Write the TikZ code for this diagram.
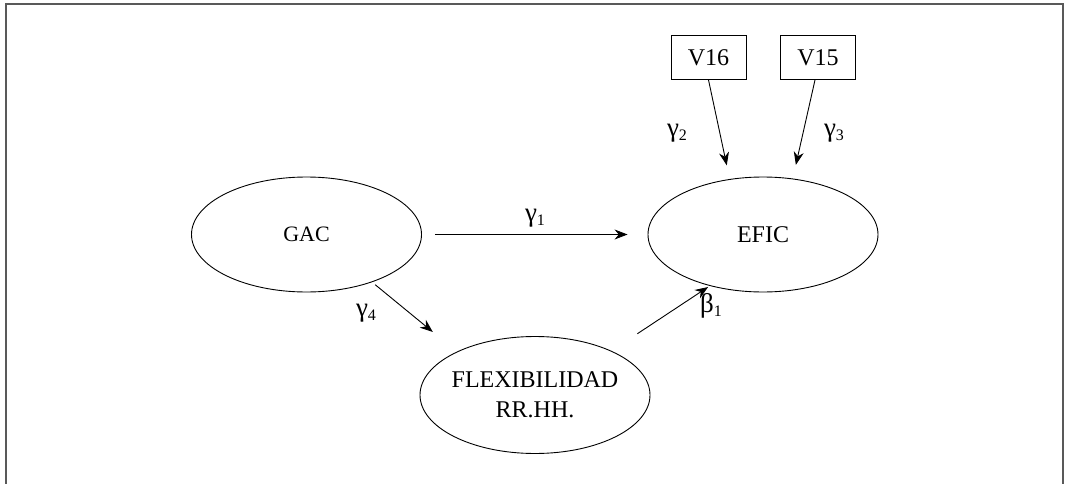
\documentclass[tikz,border=0pt]{standalone}
\usepackage{fontspec}
\setmainfont{Liberation Serif}
\usetikzlibrary{shapes.geometric,arrows.meta}
\newcommand{\lblsub}[2]{#1\raisebox{-4pt}{\fontsize{16}{16}\selectfont #2}}
\begin{document}
\begin{tikzpicture}[x=1pt,y=-1pt,
  every node/.style={font=\fontsize{24}{30}\selectfont},
  latent/.style={draw, ellipse, line width=0.9pt, minimum width=230pt, minimum height=115pt, inner sep=0pt, align=center},
  obs/.style={draw, rectangle, line width=0.9pt, minimum width=75pt, minimum height=44pt, inner sep=0pt},
  arr/.style={line width=0.9pt, -{Stealth[length=13pt,width=10pt]}},
  lbl/.style={inner sep=0pt, font=\fontsize{27}{30}\selectfont},
  frameline/.style={draw=black!65, line width=1.8pt}
]
\useasboundingbox (0,0) rectangle (1065,484);
\draw[frameline] (6,484) -- (6,4) -- (1063,4) -- (1063,484);

\node[latent, font=\fontsize{22}{26}\selectfont] (GAC) at (306.5,234.5) {GAC};
\node[latent] (EFIC) at (763,234.5) {EFIC};
\node[latent, minimum height=117pt, inner sep=-12pt] (FLEX) at (535,395) {FLEXIBILIDAD\\RR.HH.};
\node[obs] (V16) at (708.5,57.5) {V16};
\node[obs] (V15) at (818,57.5) {V15};

\draw[arr, shorten >=14pt] (V16.south) -- (EFIC.121);
\draw[arr, shorten >=14pt] ([xshift=-3pt]V15.south) -- (EFIC.62);
\draw[arr, shorten <=13pt, shorten >=20pt] (GAC.east) -- (EFIC.west);
\draw[arr, shorten <=4pt, shorten >=31pt] (GAC.-36) -- (FLEX.151);
\draw[arr, shorten <=31pt, shorten >=2pt] (FLEX.30) -- (EFIC.224);

\node[lbl] (g1) at (535,218) {\lblsub{γ}{1}};
\node[lbl] (g2) at (677,133) {\lblsub{γ}{2}};
\node[lbl] (g3) at (834,133) {\lblsub{γ}{3}};
\node[lbl] (g4) at (366,313) {\lblsub{γ}{4}};
\node[lbl] (b1) at (711,306) {\lblsub{β}{1}};
\end{tikzpicture}
\end{document}
